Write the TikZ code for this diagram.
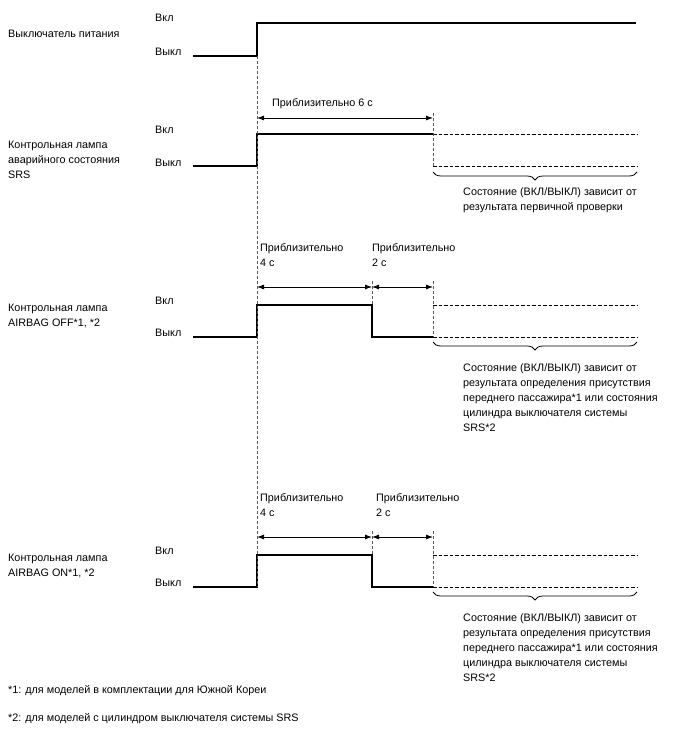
\documentclass[tikz,border=0pt]{standalone}
\usepackage{fontspec}
\setmainfont{Liberation Sans}
\usetikzlibrary{arrows.meta,positioning,decorations.pathreplacing}

\begin{document}
\begin{tikzpicture}[x=1pt,y=-1pt,
    txt/.style={font=\fontsize{10.8}{15}\selectfont,inner sep=0pt,anchor=west,align=left},
    txtnw/.style={txt,anchor=north west},
    sig/.style={line width=1.3pt},
    dsig/.style={line width=1pt,dash pattern=on 3.5pt off 2pt},
    guide/.style={line width=0.6pt,dash pattern=on 3pt off 2pt,gray!70!black},
    span/.style={{Latex[length=7pt,width=5pt]}-{Latex[length=7pt,width=5pt]},line width=0.8pt},
    brc/.style={decorate,decoration={brace,mirror,amplitude=8pt},line width=0.8pt}]
  \useasboundingbox (0,0) rectangle (688,755);

  % power switch
  \node[txt] (name1) at (8,34) {Выключатель питания};
  \node[txt] (on1) at (155,18) {Вкл};
  \node[txt] (off1) at (155,52) {Выкл};
  \coordinate (s1a) at (193,56);
  \coordinate (s1b) at (257,56);
  \coordinate (s1c) at (257,23);
  \coordinate (s1d) at (636,23);
  \draw[sig] (s1a) -- (s1b) -- (s1c) -- (s1d);

  % SRS warning lamp
  \node[txt] (name2) at (8,160) {Контрольная лампа\\аварийного состояния\\SRS};
  \node[txt] (on2) at (155,130) {Вкл};
  \node[txt] (off2) at (155,163) {Выкл};
  \coordinate (s2a) at (193,166);
  \coordinate (s2b) at (257,166);
  \coordinate (s2c) at (257,134);
  \coordinate (s2d) at (433,134);
  \coordinate (s2e) at (637,134);
  \coordinate (s2f) at (433,166);
  \coordinate (s2g) at (637,166);
  \coordinate (t2) at (433,113);
  \draw[sig] (s2a) -- (s2b) -- (s2c) -- (s2d);
  \draw[dsig] (s2d) -- (s2e);
  \draw[dsig] (s2f) -- (s2g);
  \draw[guide] (t2) -- (s2f);
  \draw[span] (257,118) -- (433,118);
  \node[txt] (dur2) at (272,104) {Приблизительно 6 с};
  \draw[brc] (433,172) -- (637,172);
  \node[txtnw] (note2) at (463,187) {Состояние (ВКЛ/ВЫКЛ) зависит от\\результата первичной проверки};

  % AIRBAG OFF lamp
  \node[txt] (name3) at (8,316) {Контрольная лампа\\AIRBAG OFF*1, *2};
  \node[txt] (on3) at (155,301) {Вкл};
  \node[txt] (off3) at (155,333) {Выкл};
  \coordinate (s3a) at (193,337);
  \coordinate (s3b) at (257,337);
  \coordinate (s3c) at (257,305);
  \coordinate (s3d) at (372,305);
  \coordinate (s3e) at (372,337);
  \coordinate (s3f) at (433,337);
  \coordinate (s3g) at (637,337);
  \coordinate (s3h) at (433,305);
  \coordinate (s3i) at (637,305);
  \draw[sig] (s3a) -- (s3b) -- (s3c) -- (s3d) -- (s3e) -- (s3f);
  \draw[dsig] (s3f) -- (s3g);
  \draw[dsig] (s3h) -- (s3i);
  \draw[guide] (372,281) -- (s3d);
  \draw[guide] (433,281) -- (s3f);
  \draw[span] (257,287) -- (372,287);
  \draw[span] (372,287) -- (433,287);
  \node[txtnw] (dur3a) at (260,243) {Приблизительно\\4 с};
  \node[txtnw] (dur3b) at (372,243) {Приблизительно\\2 с};
  \draw[brc] (433,342) -- (637,342);
  \node[txtnw] (note3) at (463,363) {Состояние (ВКЛ/ВЫКЛ) зависит от\\результата определения присутствия\\переднего пассажира*1 или состояния\\цилиндра выключателя системы\\SRS*2};

  % AIRBAG ON lamp
  \node[txt] (name4) at (8,566) {Контрольная лампа\\AIRBAG ON*1, *2};
  \node[txt] (on4) at (155,551) {Вкл};
  \node[txt] (off4) at (155,583) {Выкл};
  \coordinate (s4a) at (193,587);
  \coordinate (s4b) at (257,587);
  \coordinate (s4c) at (257,555);
  \coordinate (s4d) at (372,555);
  \coordinate (s4e) at (372,587);
  \coordinate (s4f) at (433,587);
  \coordinate (s4g) at (637,587);
  \coordinate (s4h) at (433,555);
  \coordinate (s4i) at (637,555);
  \draw[sig] (s4a) -- (s4b) -- (s4c) -- (s4d) -- (s4e) -- (s4f);
  \draw[dsig] (s4f) -- (s4g);
  \draw[dsig] (s4h) -- (s4i);
  \draw[guide] (372,531) -- (s4d);
  \draw[guide] (433,531) -- (s4f);
  \draw[span] (257,537) -- (372,537);
  \draw[span] (372,537) -- (433,537);
  \node[txtnw] (dur4a) at (260,493) {Приблизительно\\4 с};
  \node[txtnw] (dur4b) at (376,493) {Приблизительно\\2 с};
  \draw[brc] (433,592) -- (637,592);
  \node[txtnw] (note4) at (463,613) {Состояние (ВКЛ/ВЫКЛ) зависит от\\результата определения присутствия\\переднего пассажира*1 или состояния\\цилиндра выключателя системы\\SRS*2};

  % common start line
  \draw[guide] (s1b) -- (s4b);

  % footnotes
  \node[txt] (fn1) at (8,691) {*1: для моделей в комплектации для Южной Кореи};
  \node[txt] (fn2) at (8,719) {*2: для моделей с цилиндром выключателя системы SRS};
\end{tikzpicture}
\end{document}
